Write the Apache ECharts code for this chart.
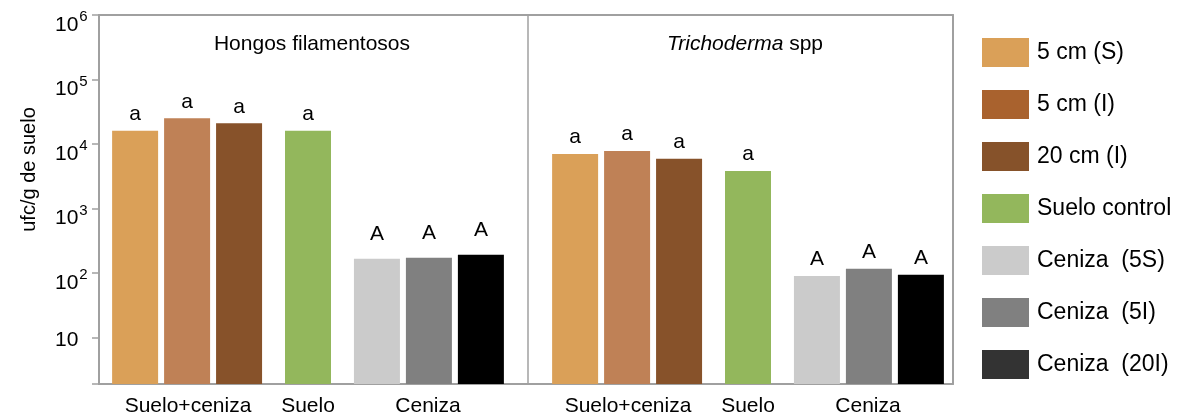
<!DOCTYPE html>
<html>
<head>
    <meta charset="utf-8">
    <script src="https://cdn.jsdelivr.net/npm/echarts@6/dist/echarts.min.js"></script>
</head>
<body style="margin:0">
<div id="main" style="width: 1183px;height:419px"></div>

<script type="text/javascript">
    // grupos (x) y subgrupos
    var groups = ['Hongos filamentosos', 'Trichoderma spp'];
    var subLabels = ['Suelo+ceniza', 'Suelo', 'Ceniza'];

    // ufc/g de suelo, [Hongos, Trichoderma]
    var sc5S = [16100, 7000];
    var sc5I = [25000, 7800];
    var sc20I = [21000, 5900];
    var sueloControl = [16000, 3800];
    var ceniza5S = [166, 90];
    var ceniza5I = [172, 116];
    var ceniza20I = [191, 94];

    var names = ['5 cm (S)', '5 cm (I)', '20 cm (I)', 'Suelo control', 'Ceniza  (5S)', 'Ceniza  (5I)', 'Ceniza  (20I)'];
    var letters = ['a', 'a', 'a', 'a', 'A', 'A', 'A'];

    var yMin = 1.9, yMax = 1000000;

    var FONT = '"Liberation Sans", Arial, sans-serif';
    var barColors = ['#DAA058', '#BF8156', '#87522A', '#93B75C', '#CBCBCB', '#808080', '#000000'];
    var legendColors = ['#DAA058', '#A9622E', '#86522A', '#93B75C', '#CBCBCB', '#808080', '#333333'];
    var frameColor = '#a0a0a0';

    var values = [sc5S, sc5I, sc20I, sueloControl, ceniza5S, ceniza5I, ceniza20I];

    function barSeries(i) {
        return {
            name: names[i],
            type: 'bar',
            xAxisIndex: 0,
            yAxisIndex: 0,
            barWidth: 46,
            barGap: '13%',
            itemStyle: {color: barColors[i]},
            label: {
                show: true,
                position: 'top',
                distance: 6,
                color: '#000',
                fontFamily: FONT,
                fontSize: 21,
                formatter: function () { return letters[i]; }
            },
            // las letras de ceniza en hongos van algo mas altas
            data: values[i].map(function (v, k) {
                return (i >= 4 && k === 0) ? {value: v, label: {distance: 14}} : v;
            })
        };
    }
    function spacer(id) {
        return {name: id, type: 'bar', xAxisIndex: 0, yAxisIndex: 0, barWidth: 15, barGap: '13%', data: []};
    }

    var series = [
        barSeries(0), barSeries(1), barSeries(2),
        spacer('_s1'),
        barSeries(3),
        spacer('_s2'),
        barSeries(4), barSeries(5), barSeries(6)
    ];

    var chartDom = document.getElementById('main');
    var myChart = echarts.init(chartDom);
    var option;

    option = {
        animation: false,
        textStyle: {fontFamily: FONT},
        title: [
            {text: groups[0], left: 307, top: 29, textAlign: 'center',
                textStyle: {fontFamily: FONT, fontSize: 21, fontWeight: 'normal', color: '#000'}},
            {text: '{i|Trichoderma} spp', left: 740, top: 29, textAlign: 'center',
                textStyle: {fontFamily: FONT, fontSize: 21, fontWeight: 'normal', color: '#000',
                    rich: {i: {fontFamily: FONT, fontSize: 21, fontStyle: 'italic', color: '#000'}}}}
        ],
        legend: {
            orient: 'vertical',
            left: 982,
            top: 38,
            padding: 0,
            itemWidth: 47,
            itemHeight: 29,
            itemGap: 23,
            icon: 'rect',
            textStyle: {fontFamily: FONT, fontSize: 23, color: '#000', padding: [3, 0, 0, 3]},
            data: names.map(function (n, i) {
                return {name: n, itemStyle: {color: legendColors[i]}};
            })
        },
        grid: [
            // barras
            {left: 88, right: 1183 - 968, top: 15, bottom: 35},
            // marco
            {left: 99, right: 1183 - 953, top: 15, bottom: 35}
        ],
        xAxis: [
            {
                type: 'category',
                gridIndex: 0,
                data: groups,
                axisLine: {show: false},
                axisTick: {show: false},
                splitLine: {show: true, showMinLine: false, showMaxLine: false,
                    lineStyle: {color: frameColor, width: 1.5}},
                axisLabel: {
                    interval: 0,
                    margin: 12,
                    formatter: function () {
                        return '{a|' + subLabels[0] + '}{b|' + subLabels[1] + '}{c|' + subLabels[2] + '}';
                    },
                    rich: {
                        a: {width: 200, align: 'center', fontFamily: FONT, fontSize: 21, color: '#000'},
                        b: {width: 40, align: 'center', fontFamily: FONT, fontSize: 21, color: '#000'},
                        c: {width: 200, align: 'center', fontFamily: FONT, fontSize: 21, color: '#000'}
                    }
                }
            },
            {
                type: 'value', gridIndex: 1, min: 0, max: 1, position: 'bottom',
                axisLine: {show: true, onZero: false, lineStyle: {color: frameColor, width: 2}},
                axisTick: {show: false}, axisLabel: {show: false}, splitLine: {show: false}
            },
            {
                type: 'value', gridIndex: 1, min: 0, max: 1, position: 'top',
                axisLine: {show: true, onZero: false, lineStyle: {color: frameColor, width: 2}},
                axisTick: {show: false}, axisLabel: {show: false}, splitLine: {show: false}
            }
        ],
        yAxis: [
            {type: 'log', gridIndex: 0, min: yMin, max: yMax, show: false},
            {
                type: 'log', gridIndex: 1, min: yMin, max: yMax, position: 'left',
                name: 'ufc/g de suelo',
                nameLocation: 'middle',
                nameGap: 60,
                nameTextStyle: {fontFamily: FONT, fontSize: 20, color: '#000', padding: [0, 0, 0, 60]},
                axisLine: {show: true, onZero: false, lineStyle: {color: frameColor, width: 2}},
                axisTick: {show: true, length: 7, lineStyle: {color: frameColor, width: 1.5}},
                splitLine: {show: false},
                axisLabel: {
                    align: 'left',
                    margin: 44,
                    formatter: function (v) {
                        var p = Math.round(Math.log10(v));
                        if (Math.abs(Math.log10(v) - p) > 1e-6 || p < 1) return '';
                        if (p === 1) return '{m|10}';
                        return '{n|10}{s|' + p + '}';
                    },
                    rich: {
                        m: {fontFamily: FONT, fontSize: 21, color: '#000', padding: [5, 0, 0, 0]},
                        n: {fontFamily: FONT, fontSize: 21, color: '#000', padding: [20, 0, 0, 0]},
                        s: {fontFamily: FONT, fontSize: 15, color: '#000', verticalAlign: 'top', padding: [15, 0, 0, 1]}
                    }
                }
            },
            {
                type: 'value', gridIndex: 1, min: 0, max: 1, position: 'right',
                axisLine: {show: true, onZero: false, lineStyle: {color: frameColor, width: 2}},
                axisTick: {show: false}, axisLabel: {show: false}, splitLine: {show: false}
            }
        ],
        series: series
    };

    option && myChart.setOption(option);
</script>
</body>
</html>
